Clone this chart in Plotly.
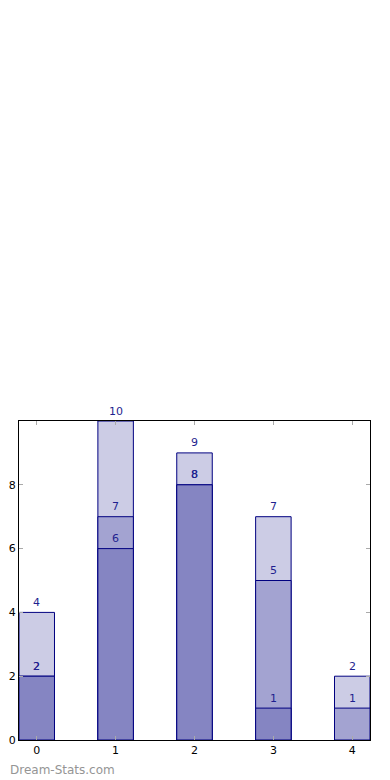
import plotly.graph_objects as go

categories = [0, 1, 2, 3, 4]
series_light = [4, 10, 9, 7, 2]
series_medium = [2, 7, 8, 5, 1]
series_dark = [2, 6, 8, 1, 0]
y_ticks = [0, 2, 4, 6, 8]

colors = {"light": "#ccccE5", "medium": "#a3a3d1", "dark": "#8585c2"}
edge = "#000080"
label_color = "#1f1f8f"

fig = go.Figure()
for name, vals in [("light", series_light), ("medium", series_medium), ("dark", series_dark)]:
    xs = [c for c, v in zip(categories, vals) if v > 0]
    ys = [v for v in vals if v > 0]
    fig.add_trace(go.Bar(
        x=xs, y=ys, width=0.45,
        marker=dict(color=colors[name], line=dict(color=edge, width=1)),
        showlegend=False, hoverinfo="skip",
    ))

annotations = []
for vals in [series_light, series_medium, series_dark]:
    for c, v in zip(categories, vals):
        if v > 0:
            annotations.append(dict(
                x=c, y=v, text=str(v), showarrow=False, yshift=10,
                xanchor="center", yanchor="middle",
                font=dict(color=label_color, size=11, family="DejaVu Sans"),
            ))

annotations.append(dict(
    text="Dream-Stats.com", xref="paper", yref="paper",
    x=-0.031, y=-0.094, xanchor="left", yanchor="middle", showarrow=False,
    font=dict(family="DejaVu Sans", size=12, color="#959595"),
))

axis_common = dict(
    showline=True, linecolor="black", linewidth=1, mirror="ticks",
    ticks="inside", ticklen=4, tickcolor="#aaaaaa", showgrid=False, zeroline=False,
    automargin=False,
    tickfont=dict(family="DejaVu Sans", size=11, color="black"),
)
fig.update_layout(
    barmode="overlay",
    width=382, height=772,
    margin=dict(l=11, r=20, t=413, b=40),
    paper_bgcolor="white", plot_bgcolor="white",
    xaxis=dict(range=[-0.225, 4.225], tickvals=categories, ticktext=[str(c) for c in categories], **axis_common),
    yaxis=dict(range=[0, 10], tickvals=y_ticks, ticktext=[str(t) for t in y_ticks], **axis_common),
    annotations=annotations,
)
fig.write_html("out.html")
